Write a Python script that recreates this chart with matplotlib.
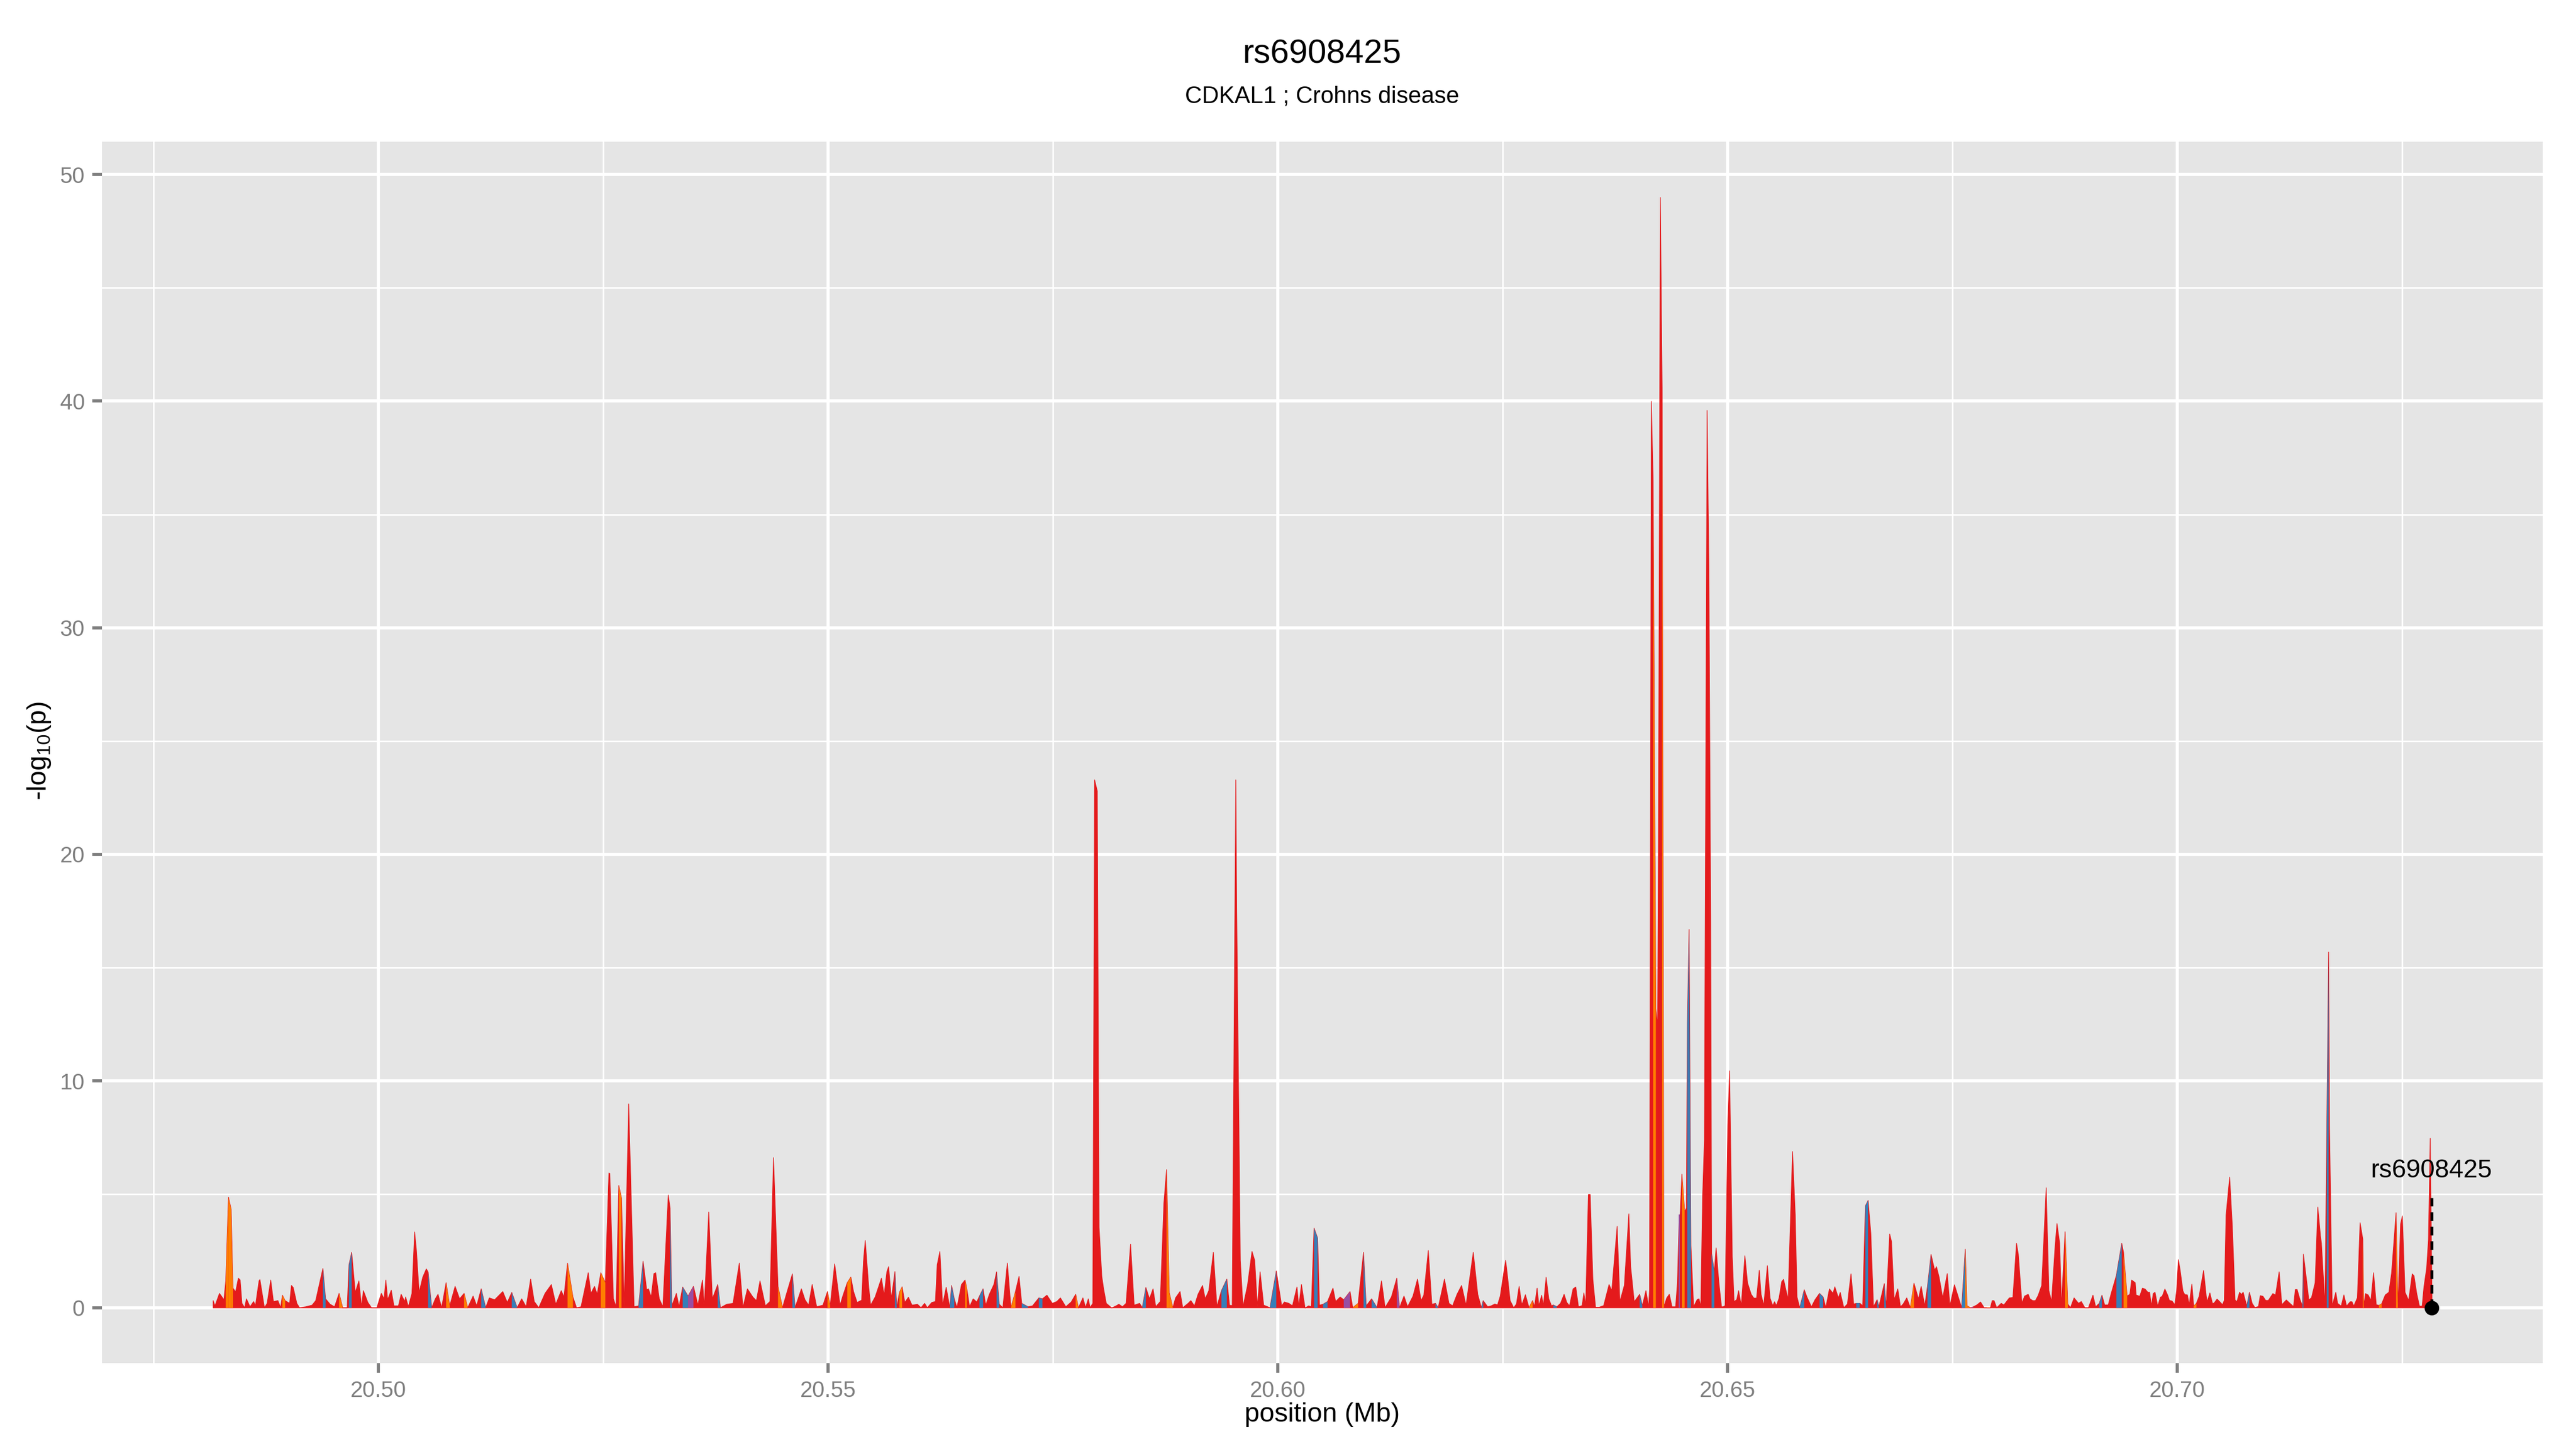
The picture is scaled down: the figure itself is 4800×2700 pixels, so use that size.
import numpy as np
import matplotlib
matplotlib.use("Agg")
import matplotlib.pyplot as plt
from matplotlib.ticker import MultipleLocator, FormatStrFormatter

plt.rcParams['font.family'] = ['Liberation Sans', 'DejaVu Sans']
plt.rcParams['mathtext.fontset'] = 'custom'
plt.rcParams['mathtext.rm'] = 'Liberation Sans'
plt.rcParams['mathtext.it'] = 'Liberation Sans:italic'

title = "rs6908425"
subtitle = "CDKAL1 ; Crohns disease"
index_snp = "rs6908425"
index_pos = 20.7283
label_y = 6.05
dash_top = 4.85

# SNP positions (Mb)
pos = [
 20.4816, 20.4818, 20.4823, 20.4828, 20.4830, 20.4833, 20.4836, 20.4838, 20.4841, 20.4844,
 20.4846, 20.4848, 20.4851, 20.4853, 20.4857, 20.4861, 20.4863, 20.4867, 20.4868, 20.4873,
 20.4876, 20.4880, 20.4883, 20.4888, 20.4891, 20.4893, 20.4896, 20.4901, 20.4903, 20.4905,
 20.4909, 20.4912, 20.4919, 20.4926, 20.4930, 20.4938, 20.4941, 20.4946, 20.4951, 20.4956,
 20.4960, 20.4965, 20.4967, 20.4970, 20.4974, 20.4978, 20.4981, 20.4983, 20.4988, 20.4992,
 20.4998, 20.5003, 20.5006, 20.5008, 20.5010, 20.5014, 20.5017, 20.5022, 20.5025, 20.5029,
 20.5030, 20.5033, 20.5037, 20.5040, 20.5042, 20.5045, 20.5049, 20.5053, 20.5055, 20.5059,
 20.5063, 20.5066, 20.5070, 20.5075, 20.5079, 20.5085, 20.5090, 20.5095, 20.5099, 20.5105,
 20.5109, 20.5114, 20.5119, 20.5123, 20.5129, 20.5138, 20.5143, 20.5148, 20.5154, 20.5159,
 20.5164, 20.5169, 20.5173, 20.5178, 20.5185, 20.5192, 20.5197, 20.5203, 20.5206, 20.5210,
 20.5216, 20.5220, 20.5225, 20.5233, 20.5236, 20.5240, 20.5243, 20.5247, 20.5252, 20.5256,
 20.5257, 20.5261, 20.5264, 20.5267, 20.5270, 20.5273, 20.5278, 20.5284, 20.5289, 20.5294,
 20.5298, 20.5300, 20.5303, 20.5306, 20.5308, 20.5312, 20.5316, 20.5322, 20.5324, 20.5326,
 20.5331, 20.5334, 20.5338, 20.5344, 20.5350, 20.5355, 20.5360, 20.5362, 20.5367, 20.5371,
 20.5377, 20.5380, 20.5387, 20.5394, 20.5401, 20.5405, 20.5410, 20.5416, 20.5420, 20.5424,
 20.5430, 20.5435, 20.5439, 20.5444, 20.5449, 20.5453, 20.5460, 20.5463, 20.5470, 20.5474,
 20.5478, 20.5482, 20.5487, 20.5494, 20.5499, 20.5502, 20.5507, 20.5513, 20.5516, 20.5521,
 20.5525, 20.5528, 20.5532, 20.5537, 20.5539, 20.5541, 20.5545, 20.5547, 20.5552, 20.5557,
 20.5559, 20.5562, 20.5565, 20.5567, 20.5570, 20.5574, 20.5576, 20.5579, 20.5582, 20.5585,
 20.5589, 20.5593, 20.5599, 20.5603, 20.5607, 20.5610, 20.5615, 20.5619, 20.5621, 20.5624,
 20.5627, 20.5631, 20.5635, 20.5637, 20.5640, 20.5643, 20.5648, 20.5652, 20.5654, 20.5657,
 20.5661, 20.5665, 20.5668, 20.5672, 20.5675, 20.5679, 20.5684, 20.5687, 20.5690, 20.5694,
 20.5699, 20.5703, 20.5708, 20.5712, 20.5715, 20.5722, 20.5727, 20.5734, 20.5738, 20.5743,
 20.5749, 20.5754, 20.5758, 20.5764, 20.5770, 20.5775, 20.5778, 20.5783, 20.5786, 20.5789,
 20.5791, 20.5794, 20.5796, 20.5799, 20.5801, 20.5804, 20.5806, 20.5809, 20.5815, 20.5820,
 20.5823, 20.5827, 20.5831, 20.5836, 20.5840, 20.5846, 20.5849, 20.5853, 20.5857, 20.5861,
 20.5864, 20.5869, 20.5873, 20.5876, 20.5879, 20.5883, 20.5886, 20.5891, 20.5894, 20.5900,
 20.5903, 20.5907, 20.5911, 20.5916, 20.5919, 20.5923, 20.5928, 20.5932, 20.5937, 20.5943,
 20.5946, 20.5949, 20.5953, 20.5954, 20.5958, 20.5961, 20.5966, 20.5971, 20.5974, 20.5977,
 20.5980, 20.5984, 20.5991, 20.5998, 20.6004, 20.6007, 20.6012, 20.6016, 20.6021, 20.6023,
 20.6026, 20.6030, 20.6034, 20.6037, 20.6040, 20.6044, 20.6046, 20.6050, 20.6055, 20.6061,
 20.6064, 20.6069, 20.6073, 20.6080, 20.6083, 20.6089, 20.6095, 20.6098, 20.6104, 20.6110,
 20.6115, 20.6119, 20.6126, 20.6132, 20.6135, 20.6140, 20.6144, 20.6150, 20.6155, 20.6159,
 20.6162, 20.6167, 20.6171, 20.6175, 20.6178, 20.6185, 20.6190, 20.6194, 20.6199, 20.6204,
 20.6209, 20.6217, 20.6222, 20.6226, 20.6228, 20.6233, 20.6237, 20.6241, 20.6244, 20.6247,
 20.6253, 20.6255, 20.6258, 20.6262, 20.6265, 20.6268, 20.6271, 20.6275, 20.6279, 20.6283,
 20.6285, 20.6288, 20.6290, 20.6293, 20.6295, 20.6298, 20.6301, 20.6304, 20.6306, 20.6310,
 20.6314, 20.6318, 20.6321, 20.6324, 20.6328, 20.6331, 20.6334, 20.6338, 20.6340, 20.6342,
 20.6345, 20.6347, 20.6350, 20.6353, 20.6357, 20.6362, 20.6368, 20.6371, 20.6377, 20.6380,
 20.6385, 20.6390, 20.6392, 20.6396, 20.6402, 20.6405, 20.6409, 20.6412, 20.6413, 20.6415,
 20.6417, 20.6420, 20.6422, 20.6423, 20.6425, 20.6427, 20.6429, 20.6432, 20.6435, 20.6438,
 20.6442, 20.6444, 20.6446, 20.6447, 20.6449, 20.6452, 20.6454, 20.6455, 20.6457, 20.6459,
 20.6462, 20.6466, 20.6468, 20.6470, 20.6472, 20.6474, 20.6477, 20.6479, 20.6481, 20.6482,
 20.6485, 20.6487, 20.6490, 20.6493, 20.6495, 20.6497, 20.6500, 20.6502, 20.6505, 20.6507,
 20.6510, 20.6512, 20.6515, 20.6519, 20.6522, 20.6526, 20.6529, 20.6532, 20.6535, 20.6537,
 20.6540, 20.6544, 20.6547, 20.6550, 20.6552, 20.6554, 20.6557, 20.6560, 20.6562, 20.6567,
 20.6572, 20.6575, 20.6577, 20.6580, 20.6585, 20.6588, 20.6593, 20.6597, 20.6602, 20.6606,
 20.6609, 20.6613, 20.6617, 20.6619, 20.6623, 20.6625, 20.6629, 20.6633, 20.6637, 20.6640,
 20.6643, 20.6647, 20.6650, 20.6653, 20.6656, 20.6659, 20.6662, 20.6666, 20.6668, 20.6674,
 20.6676, 20.6680, 20.6682, 20.6685, 20.6689, 20.6692, 20.6695, 20.6699, 20.6703, 20.6707,
 20.6712, 20.6715, 20.6719, 20.6722, 20.6726, 20.6730, 20.6732, 20.6735, 20.6739, 20.6744,
 20.6747, 20.6752, 20.6755, 20.6760, 20.6764, 20.6766, 20.6770, 20.6773, 20.6777, 20.6781,
 20.6785, 20.6788, 20.6792, 20.6794, 20.6796, 20.6799, 20.6804, 20.6807, 20.6813, 20.6817,
 20.6821, 20.6823, 20.6827, 20.6830, 20.6834, 20.6836, 20.6839, 20.6842, 20.6845, 20.6849,
 20.6854, 20.6857, 20.6860, 20.6864, 20.6866, 20.6869, 20.6871, 20.6875, 20.6878, 20.6881,
 20.6885, 20.6890, 20.6893, 20.6897, 20.6901, 20.6906, 20.6909, 20.6913, 20.6916, 20.6919,
 20.6923, 20.6926, 20.6932, 20.6938, 20.6940, 20.6944, 20.6947, 20.6949, 20.6953, 20.6954,
 20.6958, 20.6961, 20.6964, 20.6967, 20.6969, 20.6971, 20.6973, 20.6975, 20.6978, 20.6981,
 20.6983, 20.6986, 20.6989, 20.6991, 20.6994, 20.6997, 20.6999, 20.7001, 20.7003, 20.7006,
 20.7008, 20.7011, 20.7013, 20.7016, 20.7018, 20.7021, 20.7024, 20.7029, 20.7032, 20.7033,
 20.7036, 20.7039, 20.7041, 20.7044, 20.7047, 20.7050, 20.7052, 20.7054, 20.7058, 20.7061,
 20.7064, 20.7066, 20.7069, 20.7071, 20.7073, 20.7077, 20.7080, 20.7083, 20.7086, 20.7090,
 20.7092, 20.7095, 20.7098, 20.7101, 20.7106, 20.7109, 20.7113, 20.7116, 20.7121, 20.7125,
 20.7129, 20.7131, 20.7133, 20.7136, 20.7139, 20.7140, 20.7144, 20.7146, 20.7149, 20.7153,
 20.7156, 20.7159, 20.7160, 20.7164, 20.7166, 20.7168, 20.7169, 20.7172, 20.7176, 20.7178,
 20.7182, 20.7185, 20.7188, 20.7192, 20.7194, 20.7196, 20.7200, 20.7203, 20.7206, 20.7207,
 20.7209, 20.7212, 20.7215, 20.7218, 20.7221, 20.7224, 20.7227, 20.7231, 20.7235, 20.7238,
 20.7243, 20.7245, 20.7248, 20.7250, 20.7253, 20.7257, 20.7261, 20.7263, 20.7266, 20.7269,
 20.7272, 20.7274, 20.7277, 20.7279, 20.7281, 20.7283,
]

# -log10(p)
logp = [
 0.32, 0.09, 0.64, 0.36, 1.19, 4.89, 4.35, 0.87, 0.71, 1.31,
 1.23, 0.20, 0.01, 0.40, 0.05, 0.28, 0.09, 1.19, 1.25, 0.01,
 0.20, 1.23, 0.28, 0.32, 0.01, 0.56, 0.32, 0.20, 0.99, 0.90,
 0.20, 0.01, 0.05, 0.12, 0.32, 1.74, 0.40, 0.16, 0.05, 0.64,
 0.01, 0.01, 1.90, 2.45, 0.68, 1.19, 0.05, 0.76, 0.24, 0.01,
 0.01, 0.64, 0.40, 1.23, 0.36, 0.78, 0.09, 0.09, 0.60, 0.28,
 0.48, 0.05, 0.64, 3.35, 2.53, 0.68, 1.35, 1.72, 1.58, 0.01,
 0.40, 0.60, 0.01, 1.11, 0.09, 0.95, 0.40, 0.64, 0.01, 0.52,
 0.09, 0.84, 0.01, 0.44, 0.36, 0.72, 0.24, 0.68, 0.01, 0.40,
 0.05, 1.27, 0.28, 0.01, 0.64, 1.03, 0.16, 0.76, 0.48, 1.97,
 0.48, 0.01, 0.05, 1.55, 0.64, 0.95, 0.60, 1.55, 1.11, 5.95,
 5.93, 0.40, 0.05, 5.40, 4.85, 0.05, 9.00, 0.05, 0.09, 2.06,
 0.80, 0.84, 0.48, 1.51, 1.55, 0.40, 0.05, 4.98, 4.40, 0.09,
 0.64, 0.05, 0.92, 0.52, 0.95, 0.12, 1.23, 0.05, 4.23, 0.40,
 1.03, 0.01, 0.16, 0.20, 1.98, 0.01, 0.84, 0.48, 0.32, 1.19,
 0.09, 0.28, 6.63, 0.95, 0.01, 0.56, 1.50, 0.01, 0.84, 0.36,
 0.12, 1.03, 0.05, 0.12, 0.72, 0.09, 1.94, 0.12, 0.52, 1.11,
 1.36, 0.72, 0.24, 0.34, 2.06, 2.97, 0.87, 0.12, 0.48, 1.07,
 1.31, 0.56, 1.59, 1.82, 0.40, 1.60, 0.01, 0.68, 0.93, 0.24,
 0.47, 0.12, 0.16, 0.01, 0.20, 0.01, 0.24, 0.28, 1.90, 2.49,
 0.12, 0.91, 0.01, 0.99, 0.40, 0.01, 1.03, 1.23, 0.83, 0.05,
 0.40, 0.26, 0.52, 0.84, 0.12, 0.60, 1.03, 1.59, 0.16, 0.01,
 1.98, 0.01, 0.72, 1.39, 0.20, 0.05, 0.09, 0.44, 0.40, 0.56,
 0.20, 0.28, 0.44, 0.05, 0.26, 0.60, 0.00, 0.44, 0.01, 0.40,
 0.01, 0.20, 23.30, 22.80, 3.55, 1.40, 0.85, 0.20, 0.00, 0.09,
 0.16, 0.05, 0.20, 2.81, 0.12, 0.20, 0.01, 0.90, 0.40, 0.84,
 0.05, 0.28, 4.60, 6.10, 0.67, 0.01, 0.44, 0.72, 0.01, 0.20,
 0.32, 0.09, 0.60, 0.99, 0.40, 0.76, 2.45, 0.05, 0.76, 1.27,
 0.12, 0.10, 23.30, 17.50, 2.10, 0.05, 0.99, 2.49, 2.10, 0.05,
 1.59, 0.12, 0.01, 1.63, 0.09, 0.26, 0.20, 0.09, 0.92, 0.05,
 1.03, 0.00, 0.09, 0.05, 3.52, 3.08, 0.12, 0.16, 0.28, 0.87,
 0.28, 0.48, 0.36, 0.72, 0.01, 0.20, 2.45, 0.09, 0.40, 0.01,
 1.19, 0.01, 0.48, 1.31, 0.01, 0.52, 0.05, 0.52, 1.27, 0.32,
 0.56, 2.53, 0.16, 0.20, 0.01, 1.27, 0.20, 0.09, 0.60, 0.99,
 0.12, 2.45, 0.60, 0.01, 0.32, 0.05, 0.09, 0.17, 0.13, 0.52,
 2.10, 1.43, 0.32, 0.01, 0.17, 0.95, 0.13, 0.58, 0.01, 0.32,
 0.05, 0.87, 0.09, 0.56, 0.09, 1.35, 0.40, 0.09, 0.13, 0.05,
 0.20, 0.60, 0.24, 0.09, 0.84, 0.92, 0.05, 0.10, 0.66, 0.10,
 5.00, 5.00, 1.26, 0.03, 0.03, 0.10, 1.03, 0.76, 3.60, 0.27,
 1.00, 4.15, 1.83, 0.27, 0.60, 0.10, 0.76, 0.03, 0.80, 40.00,
 36.50, 13.20, 12.45, 22.00, 49.00, 40.60, 0.05, 0.43, 0.60, 0.05,
 0.05, 1.10, 4.10, 4.10, 5.90, 4.25, 4.40, 12.50, 16.70, 2.75,
 0.05, 0.37, 0.40, 0.05, 4.90, 7.40, 39.60, 32.60, 17.00, 2.40,
 1.60, 2.65, 1.16, 0.05, 0.05, 0.10, 8.07, 10.46, 2.26, 0.27,
 0.37, 0.76, 0.10, 2.30, 1.10, 0.60, 0.43, 0.43, 1.66, 0.60,
 0.10, 1.86, 0.43, 0.10, 0.27, 0.10, 0.43, 1.16, 1.26, 0.37,
 6.90, 4.10, 0.48, 0.01, 0.80, 0.48, 0.05, 0.36, 0.64, 0.48,
 0.01, 0.84, 0.64, 0.93, 0.44, 0.68, 0.01, 0.17, 1.50, 0.17,
 0.20, 0.20, 0.09, 4.50, 4.74, 3.31, 0.05, 0.36, 0.05, 1.07,
 0.05, 3.26, 2.93, 0.36, 0.84, 0.05, 0.17, 0.44, 0.01, 1.09,
 0.40, 0.95, 0.09, 0.95, 2.36, 1.66, 1.82, 1.35, 0.44, 1.51,
 0.09, 1.02, 0.64, 0.01, 2.59, 0.09, 0.01, 0.05, 0.13, 0.26,
 0.01, 0.01, 0.01, 0.32, 0.32, 0.01, 0.20, 0.13, 0.44, 0.46,
 2.85, 2.37, 0.20, 0.52, 0.60, 0.40, 0.32, 0.32, 0.54, 0.99,
 5.30, 0.76, 0.28, 2.77, 3.72, 2.85, 0.05, 3.36, 0.17, 0.01,
 0.44, 0.20, 0.28, 0.01, 0.01, 0.56, 0.05, 0.20, 0.56, 0.13,
 0.13, 0.60, 1.43, 2.85, 2.45, 0.52, 0.60, 1.23, 1.11, 0.57,
 0.51, 0.87, 0.83, 0.69, 0.69, 0.08, 0.63, 0.69, 0.08, 0.47,
 0.51, 0.83, 0.57, 0.33, 0.30, 0.14, 0.75, 2.13, 1.65, 0.75,
 0.59, 0.57, 0.14, 1.05, 0.08, 0.20, 0.51, 1.65, 0.51, 0.27,
 0.66, 0.18, 0.23, 0.39, 0.27, 0.14, 0.33, 4.10, 5.77, 3.58,
 0.35, 0.27, 0.69, 0.59, 0.69, 0.08, 0.69, 0.20, 0.02, 0.06,
 0.54, 0.51, 0.33, 0.33, 0.63, 0.57, 1.59, 0.14, 0.35, 0.20,
 0.06, 0.81, 0.81, 0.39, 0.08, 2.37, 1.05, 0.35, 0.45, 1.11,
 4.45, 3.16, 2.86, 0.08, 8.00, 15.70, 8.00, 0.08, 0.69, 0.20,
 0.08, 0.57, 0.08, 0.27, 0.27, 0.08, 0.45, 3.76, 3.04, 0.08,
 0.63, 0.57, 0.33, 1.55, 0.14, 0.11, 0.18, 0.57, 0.69, 1.53,
 4.20, 0.08, 3.70, 4.06, 0.69, 0.33, 1.50, 1.41, 0.63, 0.08,
 0.08, 0.93, 1.76, 3.00, 7.48, 0.30,
]

# positions whose following segment takes an LD colour other than red
orange_at = [20.4830, 20.4833, 20.4836, 20.4893, 20.4956, 20.5075, 20.5095, 20.5210,
             20.5247, 20.5267, 20.5444, 20.5499, 20.5521, 20.5579, 20.5652, 20.5703,
             20.5775, 20.5876, 20.5879, 20.6083, 20.6279, 20.6417, 20.6427, 20.6449,
             20.6703, 20.6764, 20.6766, 20.6788, 20.6875, 20.6940, 20.7018, 20.7206,
             20.7224, 20.7243]
blue_at = [20.4938, 20.4967, 20.5055, 20.5114, 20.5148, 20.5289, 20.5324, 20.5338,
           20.5377, 20.5460, 20.5574, 20.5635, 20.5637, 20.5668, 20.5687, 20.5715,
           20.5734, 20.5849, 20.5937, 20.5991, 20.6040, 20.6050, 20.6095, 20.6104,
           20.6175, 20.6226, 20.6306, 20.6402, 20.6455, 20.6457, 20.6482, 20.6580,
           20.6602, 20.6643, 20.6653, 20.6666, 20.6674, 20.6722, 20.6760, 20.6913,
           20.6932, 20.7077, 20.7139, 20.7166]
purple_at = [20.5344, 20.6073, 20.6132, 20.6446, 20.6770]

RED, ORANGE, BLUE, PURPLE = '#E41A1C', '#FF7F00', '#377EB8', '#984EA3'

x = np.array(pos)
y = np.array(logp)
n = min(len(x), len(y))
x, y = x[:n], y[:n]
cat = np.array([RED] * n, dtype=object)
for lst, col in ((orange_at, ORANGE), (blue_at, BLUE), (purple_at, PURPLE)):
    for p in lst:
        cat[int(np.argmin(np.abs(x - p)))] = col

fig = plt.figure(figsize=(16, 9), dpi=300)
ax = fig.add_axes([0.03958, 0.05926, 0.9475, 0.8430])
ax.set_facecolor('#E5E5E5')

ax.fill_between(x, 0, y, color=RED, lw=0.3, edgecolor=RED, zorder=2)
for i in range(n - 1):
    if cat[i] != RED:
        ax.fill_between(x[i:i + 2], 0, y[i:i + 2], color=cat[i], lw=0, zorder=3)

# index SNP
ax.plot([index_pos, index_pos], [0, dash_top], color='black', lw=1.3,
        linestyle=(0, (3, 2)), zorder=5)
ax.plot([index_pos], [0], 'o', color='black', ms=5.5, zorder=6)
ax.text(index_pos, label_y, index_snp, ha='center', va='center', fontsize=11.5,
        color='black', zorder=6)

xmin, xmax = x.min(), x.max()
xp = 0.05 * (xmax - xmin)
ax.set_xlim(xmin - xp, xmax + xp)
ymax = y.max()
ax.set_ylim(-0.05 * ymax, ymax * 1.05)

ax.xaxis.set_major_locator(MultipleLocator(0.05))
ax.xaxis.set_minor_locator(MultipleLocator(0.025))
ax.xaxis.set_major_formatter(FormatStrFormatter('%.2f'))
ax.yaxis.set_major_locator(MultipleLocator(10))
ax.yaxis.set_minor_locator(MultipleLocator(5))

ax.set_axisbelow(True)
ax.grid(which='major', color='white', lw=1.4, zorder=0)
ax.grid(which='minor', color='white', lw=0.7, zorder=0)
for s in ax.spines.values():
    s.set_visible(False)
ax.tick_params(which='major', length=4.3, width=1.4, color='#7F7F7F',
               labelcolor='#7F7F7F', labelsize=10, pad=3.4)
ax.tick_params(which='minor', length=0)

fig.text(0.5133, 0.9626, title, ha='center', va='center', fontsize=15)
fig.text(0.5133, 0.9333, subtitle, ha='center', va='center', fontsize=10.5)
fig.text(0.5133, 0.0237, 'position (Mb)', ha='center', va='center', fontsize=12)
fig.text(0.0152, 0.4819, '-log$_{10}$(p)', ha='center', va='center', fontsize=12,
         rotation=90)

fig.savefig('out.png', dpi=300)
